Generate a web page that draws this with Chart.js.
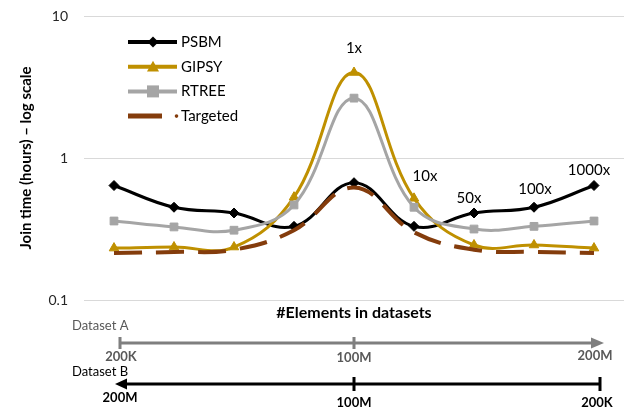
<!DOCTYPE html>
<html>
<head>
<meta charset="utf-8">
<script src="https://cdn.jsdelivr.net/npm/chart.js@4.4.1/dist/chart.umd.min.js"></script>
<style>
  html, body { margin: 0; padding: 0; background: #ffffff; overflow: hidden; }
  #chartContainer { width: 626px; height: 411px; position: relative; }
  #grafico { display: block; }
</style>
</head>
<body>
<div id="chartContainer"><canvas id="grafico"></canvas></div>
<script>
// Dados (razão entre os tamanhos dos datasets A e B)
const categorias = ['1000x', '100x', '50x', '10x', '1x', '10x', '50x', '100x', '1000x'];
const psbm     = [0.64, 0.45, 0.41, 0.33, 0.67, 0.33, 0.41, 0.45, 0.64];
const gipsy    = [0.232, 0.236, 0.236, 0.53, 4.0, 0.52, 0.244, 0.244, 0.232];
const rtree    = [0.36, 0.327, 0.31, 0.467, 2.64, 0.45, 0.316, 0.33, 0.36];
const targeted = [0.214, 0.218, 0.226, 0.31, 0.62, 0.30, 0.226, 0.218, 0.214];
const ticksY = [0.1, 1, 10];

// Rótulos no gráfico e eixos de tamanho dos datasets
const anotacoes = ['1x', '10x', '50x', '100x', '1000x'];
const anotacoesIndice = [4, 5, 6, 7, 8];
const datasetA = ['200K', '100M', '200M'];
const datasetB = ['200M', '100M', '200K'];

const fonte = 'Lato, "Open Sans", sans-serif';

const series = [
  { label: 'PSBM', data: psbm, cor: '#000000', marcador: 'rectRot', raio: 5, largura: 3, ordem: 4 },
  { label: 'GIPSY', data: gipsy, cor: '#BF9000', marcador: 'triangle', raio: 5.5, largura: 3, ordem: 3 },
  { label: 'RTREE', data: rtree, cor: '#A5A5A5', marcador: 'rect', raio: 5.5, largura: 3, ordem: 2 },
  { label: 'Targeted', data: targeted, cor: '#843C0C', marcador: false, raio: 0, largura: 4, ordem: 1, tracejado: [28, 14] }
];

function marcador(ctx, tipo, x, y, r, cor) {
  ctx.save();
  ctx.fillStyle = cor;
  ctx.beginPath();
  if (tipo === 'rectRot') {
    ctx.moveTo(x, y - r); ctx.lineTo(x + r, y); ctx.lineTo(x, y + r); ctx.lineTo(x - r, y);
  } else if (tipo === 'triangle') {
    ctx.moveTo(x, y - r); ctx.lineTo(x + r, y + r * 0.8); ctx.lineTo(x - r, y + r * 0.8);
  } else if (tipo === 'rect') {
    ctx.rect(x - r, y - r, 2 * r, 2 * r);
  }
  ctx.closePath();
  ctx.fill();
  ctx.restore();
}

const extras = {
  id: 'extras',
  afterDraw(chart) {
    const ctx = chart.ctx;
    const x = chart.scales.x;
    const y = chart.scales.y;

    // Legenda
    ctx.save();
    series.forEach((s, i) => {
      const yy = 42 + i * 24.7;
      ctx.strokeStyle = s.cor;
      ctx.lineWidth = s.largura + 1;
      ctx.beginPath();
      if (s.tracejado) {
        ctx.moveTo(128, yy); ctx.lineTo(162, yy);
        ctx.stroke();
        ctx.fillStyle = s.cor;
        ctx.beginPath(); ctx.arc(176.5, yy, 1.8, 0, Math.PI * 2); ctx.fill();
      } else {
        ctx.moveTo(128, yy); ctx.lineTo(177, yy);
        ctx.stroke();
        marcador(ctx, s.marcador, 153, yy, s.raio + 0.5, s.cor);
      }
      ctx.fillStyle = '#000000';
      ctx.font = '15px ' + fonte;
      ctx.textAlign = 'left';
      ctx.textBaseline = 'middle';
      ctx.fillText(s.label, 181, yy);
    });

    // Anotações (razão de tamanho)
    const desloc = [[0, -24, gipsy], [11, -22, gipsy], [-5, -15, psbm], [1, -18, psbm], [-5, -15, psbm]];
    ctx.font = '15px ' + fonte;
    ctx.textAlign = 'center';
    anotacoes.forEach((t, i) => {
      const idx = anotacoesIndice[i];
      const [dx, dy, ref] = desloc[i];
      ctx.fillText(t, x.getPixelForValue(idx) + dx, y.getPixelForValue(ref[idx]) + dy);
    });

    // Título do eixo X
    const x0 = x.getPixelForValue(0), xm = x.getPixelForValue(4), x1 = x.getPixelForValue(8);
    ctx.font = 'bold 16px ' + fonte;
    ctx.fillText('#Elements in datasets', xm, 313);

    // Dataset A
    ctx.textAlign = 'left';
    ctx.font = '13px ' + fonte;
    ctx.fillStyle = '#595959';
    ctx.fillText('Dataset A', 72, 326);
    ctx.strokeStyle = '#7F7F7F';
    ctx.fillStyle = '#7F7F7F';
    ctx.lineWidth = 3;
    ctx.beginPath();
    ctx.moveTo(x0 + 6, 343); ctx.lineTo(x1, 343);
    ctx.moveTo(x0 + 6, 337); ctx.lineTo(x0 + 6, 349);
    ctx.moveTo(xm, 337); ctx.lineTo(xm, 349);
    ctx.stroke();
    ctx.beginPath();
    ctx.moveTo(x1 - 3, 337.5); ctx.lineTo(x1 + 10, 343); ctx.lineTo(x1 - 3, 348.5);
    ctx.closePath(); ctx.fill();
    ctx.fillStyle = '#595959';
    ctx.font = 'bold 13px ' + fonte;
    ctx.textAlign = 'center';
    ctx.fillText(datasetA[0], x0 + 7, 357);
    ctx.fillText(datasetA[1], xm, 358);
    ctx.fillText(datasetA[2], x1 + 1, 356);

    // Dataset B
    ctx.textAlign = 'left';
    ctx.font = '13px ' + fonte;
    ctx.fillStyle = '#000000';
    ctx.fillText('Dataset B', 72, 372);
    ctx.strokeStyle = '#000000';
    ctx.lineWidth = 3;
    ctx.beginPath();
    ctx.moveTo(x0 + 10, 384); ctx.lineTo(x1 + 6, 384);
    ctx.moveTo(x1 + 6, 377); ctx.lineTo(x1 + 6, 391);
    ctx.moveTo(xm, 377); ctx.lineTo(xm, 391);
    ctx.stroke();
    ctx.beginPath();
    ctx.moveTo(x0 + 13, 378.5); ctx.lineTo(x0 + 1, 384); ctx.lineTo(x0 + 13, 389.5);
    ctx.closePath(); ctx.fill();
    ctx.font = 'bold 13px ' + fonte;
    ctx.textAlign = 'center';
    ctx.fillText(datasetB[0], x0 + 6, 398);
    ctx.fillText(datasetB[1], xm, 403);
    ctx.fillText(datasetB[2], x1 + 3, 403);
    ctx.restore();
  }
};

const ctx = document.getElementById('grafico').getContext('2d');
const chart = new Chart(ctx, {
  type: 'line',
  data: {
    labels: categorias,
    datasets: series.map(s => ({
      label: s.label,
      data: s.data,
      borderColor: s.cor,
      backgroundColor: s.cor,
      borderWidth: s.largura,
      borderDash: s.tracejado || [],
      pointStyle: s.marcador,
      pointRadius: s.raio,
      pointBackgroundColor: s.cor,
      pointBorderColor: s.cor,
      pointBorderWidth: 1,
      tension: 0.4,
      order: s.ordem
    }))
  },
  options: {
    responsive: true,
    maintainAspectRatio: false,
    animation: false,
    layout: { autoPadding: false, padding: { top: 16, right: 2, bottom: 111, left: 0 } },
    plugins: {
      legend: { display: false },
      tooltip: { enabled: false }
    },
    scales: {
      x: {
        display: false,
        offset: true
      },
      y: {
        type: 'logarithmic',
        min: 0.1,
        max: 10,
        afterBuildTicks: s => { s.ticks = ticksY.map(v => ({ value: v })); },
        afterFit: s => {
          s.width = 84;
          s.paddingTop = 0; s.paddingBottom = 0; s.paddingLeft = 0; s.paddingRight = 0;
        },
        border: { display: false },
        grid: { color: '#D9D9D9', lineWidth: 1, drawTicks: false },
        ticks: {
          padding: 16,
          color: '#262626',
          font: { family: fonte, size: 14 },
          callback: v => String(v)
        },
        title: {
          display: true,
          text: 'Join time (hours) – log scale',
          color: '#000000',
          font: { family: fonte, size: 15, weight: 'bold' },
          padding: { top: 17, bottom: 0 }
        }
      }
    }
  },
  plugins: [extras]
});
</script>
</body>
</html>
